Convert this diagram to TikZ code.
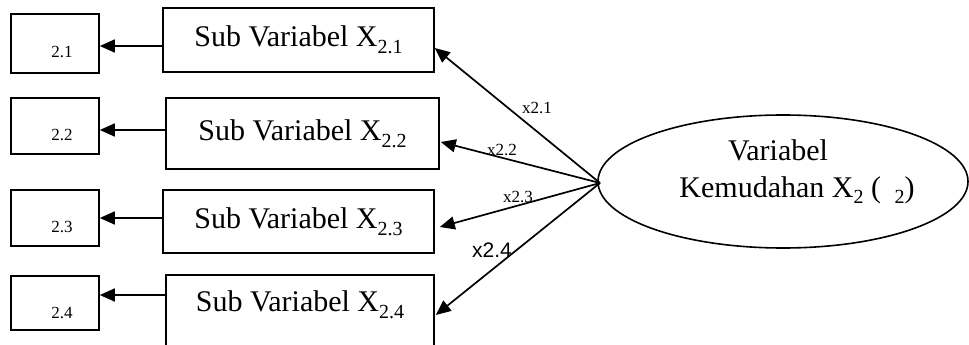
\documentclass[tikz,border=0pt]{standalone}
\usepackage{fontspec}
\setmainfont{Liberation Serif}
\newfontfamily\lsans{Liberation Sans}
\usetikzlibrary{arrows.meta,shapes.geometric}
\newcommand\mysub[1]{\raisebox{-0.22em}{\fontsize{20}{20}\selectfont #1}}
\tikzset{
  smallbox/.style={draw,line width=1.6pt,minimum width=88pt,inner sep=0pt},
  subbox/.style={draw,line width=1.6pt,inner sep=0pt,font=\fontsize{30}{34}\selectfont},
  arr/.style={line width=1.7pt,-{Triangle[length=15pt,width=13pt]}},
  darr/.style={line width=1.7pt,-{Triangle[length=15pt,width=13pt]}},
  smalltxt/.style={font=\fontsize{17}{18}\selectfont,inner sep=0pt},
  lbl/.style={font=\fontsize{17}{18}\selectfont,inner sep=0pt},
}
\begin{document}
\begin{tikzpicture}[x=1pt,y=-1pt]
\useasboundingbox[fill=white] (0,0) rectangle (969,345);
\clip (0,0) rectangle (969,345);
% small boxes
\node[smallbox,minimum height=59pt] (e1) at (55,43.5) {};
\node[smallbox,minimum height=56pt] (e2) at (55,126) {};
\node[smallbox,minimum height=56pt] (e3) at (55,218) {};
\node[smallbox,minimum height=54pt] (e4) at (55,303) {};
\node[smalltxt] (t1) at (62,52) {2.1};
\node[smalltxt] (t2) at (62,135) {2.2};
\node[smalltxt] (t3) at (62,227) {2.3};
\node[smalltxt] (t4) at (62,313) {2.4};
% sub boxes
\node[subbox,minimum width=271pt,minimum height=64pt] (s1) at (298.5,40) {Sub Variabel X\mysub{2.1}};
\node[subbox,minimum width=273pt,minimum height=71pt] (s2) at (302.5,133.5) {Sub Variabel X\mysub{2.2}};
\node[subbox,minimum width=271pt,minimum height=63pt] (s3) at (298.5,221.5) {Sub Variabel X\mysub{2.3}};
\node[subbox,minimum width=268pt,minimum height=85pt] (s4) at (300,317.5) {};
\node[font=\fontsize{30}{34}\selectfont,inner sep=0pt] (s4t) at (300,305) {Sub Variabel X\mysub{2.4}};
% ellipse
\node[draw,ellipse,line width=1.6pt,minimum width=370pt,minimum height=133pt,inner sep=0pt] (el) at (783,181.5) {};
\node[font=\fontsize{30}{34}\selectfont,inner sep=0pt] (v1) at (778,150) {Variabel};
\node[font=\fontsize{30}{34}\selectfont,inner sep=0pt] (v2) at (797,190) {Kemudahan X\mysub{2} (\hspace{0.45em}\mysub{2})};
% horizontal arrows
\draw[arr] (s1.west |- 0,46) -- (e1.east |- 0,46);
\draw[arr] (s2.west |- 0,130) -- (e2.east |- 0,130);
\draw[arr] (s3.west |- 0,218) -- (e3.east |- 0,218);
\draw[arr] (s4.west |- 0,295) -- (e4.east |- 0,295);
% diagonal arrows
\coordinate (c) at (600,183);
\draw[darr] (c) -- (s1.east |- 0,48);
\draw[darr] (c) -- ([xshift=1pt]s2.east |- 0,142);
\draw[darr] (c) -- ([xshift=5pt]s3.east |- 0,227);
\draw[darr] (c) -- ([xshift=1pt]s4.east |- 0,315);
% labels
\node[lbl] (l1) at (537,108) {x2.1};
\node[lbl] (l2) at (502,150) {x2.2};
\node[lbl] (l3) at (518,197) {x2.3};
\node[font=\lsans\fontsize{21}{22}\selectfont,inner sep=0pt] (l4) at (492,250) {x2.4};
\end{tikzpicture}
\end{document}
